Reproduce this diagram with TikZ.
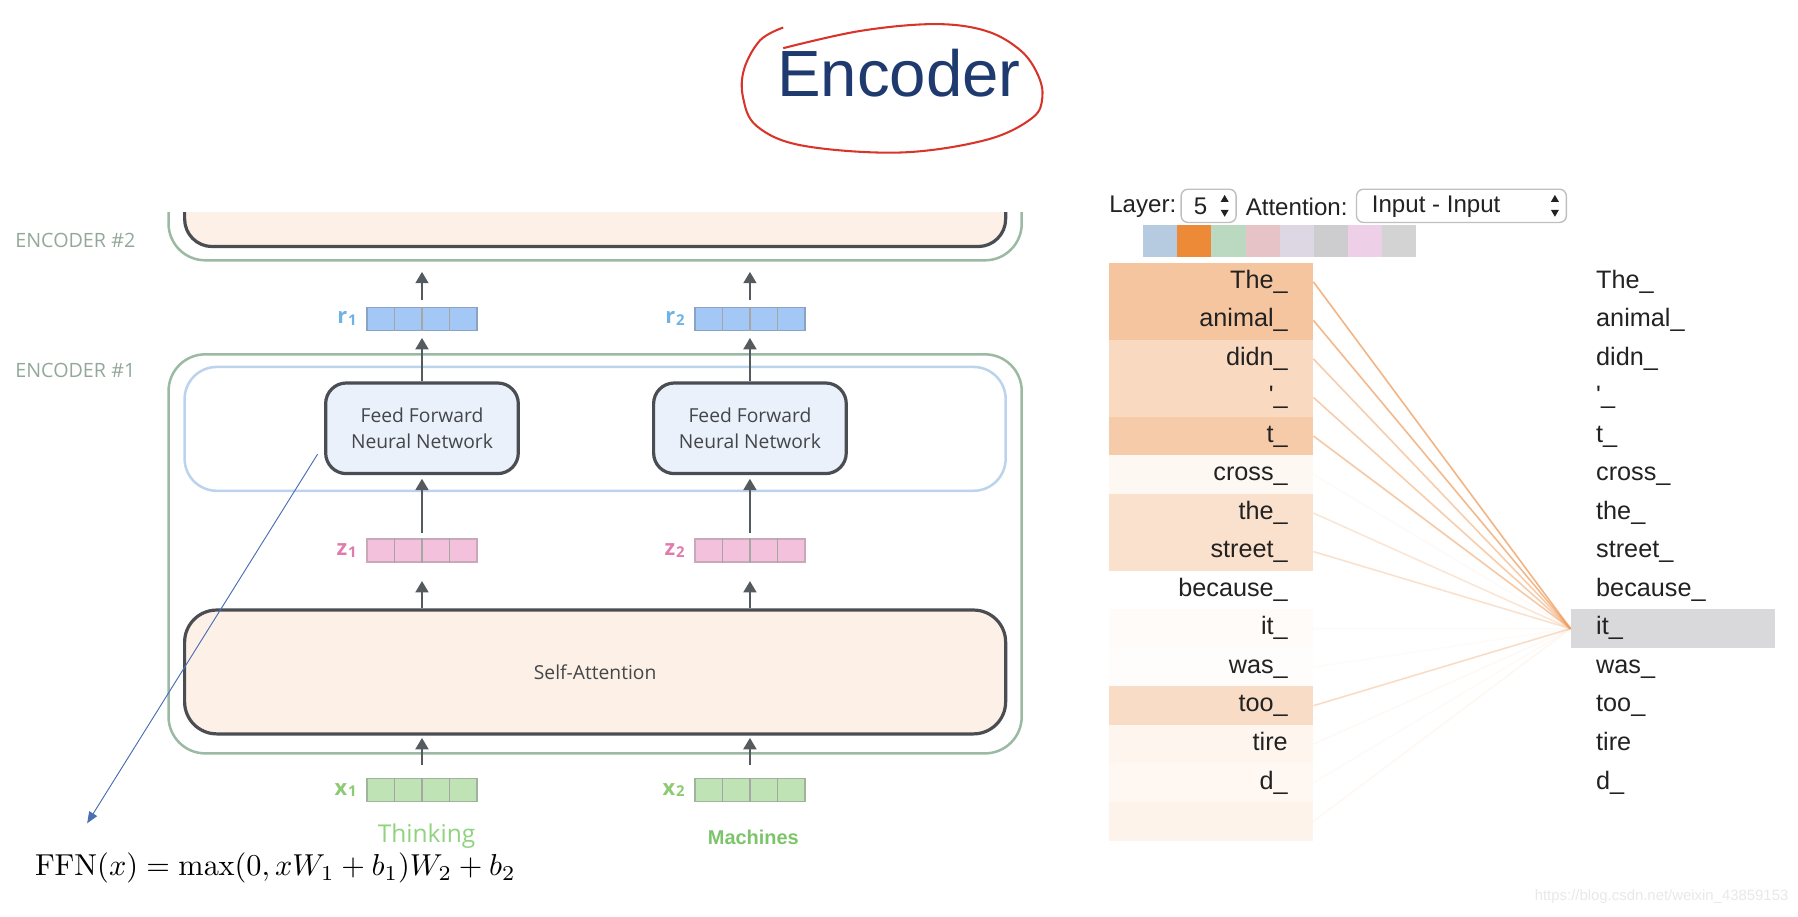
\documentclass[tikz,border=0pt]{standalone}
\usepackage[no-math]{fontspec}
\setmainfont{Liberation Sans}
\newfontfamily\opensans{Open Sans}
\usetikzlibrary{arrows.meta,positioning,calc}

\definecolor{titlenavy}{HTML}{1E3A6E}
\definecolor{redpen}{HTML}{D8352A}
\definecolor{encgreen}{HTML}{9CB9A3}
\definecolor{enclab}{HTML}{93A89A}
\definecolor{peach}{HTML}{FDF1E7}
\definecolor{boxdark}{HTML}{4A4D52}
\definecolor{boxtext}{HTML}{444649}
\definecolor{ffnfill}{HTML}{EAF1FB}
\definecolor{ffnlayer}{HTML}{BCD3EE}
\definecolor{arrgray}{HTML}{555A5F}
\definecolor{rfill}{HTML}{A3C8F5}
\definecolor{rdraw}{HTML}{8AA3C2}
\definecolor{rlab}{HTML}{6FB2E3}
\definecolor{zfill}{HTML}{F3C1DC}
\definecolor{zdraw}{HTML}{C9A9B9}
\definecolor{zlab}{HTML}{E07BAE}
\definecolor{xfill}{HTML}{C0E3B6}
\definecolor{xdraw}{HTML}{A0B49C}
\definecolor{xlab}{HTML}{8CCB72}
\definecolor{thinkgreen}{HTML}{8FD27F}
\definecolor{machgreen}{HTML}{7CC46A}
\definecolor{noteblue}{HTML}{4A6FB5}
\definecolor{uitext}{HTML}{222222}
\definecolor{attn}{HTML}{EE9B5A}
\definecolor{hlgray}{HTML}{D9D9DC}
\definecolor{swblue}{HTML}{B6CBDF}
\definecolor{sworange}{HTML}{EC8A38}
\definecolor{swgreen}{HTML}{BAD9C0}
\definecolor{swpink}{HTML}{E6C3C6}
\definecolor{swlav}{HTML}{DCD7E3}
\definecolor{swgray}{HTML}{CDCDD0}
\definecolor{swlilac}{HTML}{EDD0E8}
\definecolor{swgraylt}{HTML}{D3D3D3}

\newcommand{\vsub}[2]{#1\kern0.4pt\raisebox{-0.8pt}{\fontsize{6.5}{7}\selectfont #2}}

\begin{document}
\begin{tikzpicture}[x=0.5pt,y=-0.5pt,>={Triangle[length=5pt,width=5.5pt]},
  arr/.style={->,draw=arrgray,line width=1.25pt},
  encbox/.style={draw=encgreen,line width=1.1pt,rounded corners=16pt},
  enclabel/.style={anchor=west,inner sep=0pt,text=enclab,font=\opensans\fontsize{8.6}{10}\selectfont},
  ffnbox/.style={draw=boxdark,line width=1.4pt,fill=ffnfill,rounded corners=9pt,minimum width=84pt,minimum height=39.5pt,align=center,text=boxtext,font=\opensans\fontsize{8.4}{11}\selectfont},
  sabox/.style={draw=boxdark,line width=1.4pt,fill=peach,rounded corners=14pt,minimum width=358pt,minimum height=54pt,text=boxtext,font=\opensans\fontsize{8.4}{11}\selectfont},
  vec/.style={minimum width=48pt,minimum height=10pt,inner sep=0pt,line width=0.6pt},
  vlab/.style={inner sep=0pt,font=\opensans\bfseries\fontsize{9.5}{10}\selectfont},
  ui/.style={inner sep=0pt,text=uitext,font=\fontsize{10.5}{12}\selectfont},
  selbox/.style={draw=black!25,fill=white,rounded corners=3pt,minimum height=14.5pt,line width=0.6pt},
  tokl/.style={minimum width=89pt,minimum height=16.8pt,text width=67pt,align=right,inner xsep=0pt,inner ysep=0pt,text height=8pt,text depth=2.5pt,text=uitext,font=\fontsize{11}{13}\selectfont},
  tokr/.style={tokl,align=left},
  attnline/.style={draw=attn,line width=0.7pt}]

\useasboundingbox (0,0) rectangle (1568,799);

% title
\node[text=titlenavy,font=\fontsize{28.5}{30}\selectfont] (title) at (784,64) {Encoder};
\draw[redpen,line width=0.9pt] plot[smooth,tension=0.6] coordinates {(683,24) (663,35) (649,60) (648,85) (660,110) (700,127) (785,133) (860,122) (900,103) (909,85) (905,65) (890,44) (860,27) (815,21) (750,27) (683,42)};

% encoder #2, cut off at the top
\draw[encbox] (147,185) -- (147,227) -- (891,227) -- (891,185);
\filldraw[fill=peach,draw=boxdark,line width=1.4pt,rounded corners=12pt] (161,185) -- (161,215) -- (877,215) -- (877,185);
\coordinate (enc2in1) at (368,237);
\coordinate (enc2in2) at (654,237);

\node[enclabel] (enc2lab) at (13,210) {ENCODER \#2};
\node[enclabel] (enc1lab) at (13,323) {ENCODER \#1};

% encoder #1
\draw[encbox] (147,309) rectangle (891,657);
\draw[draw=ffnlayer,line width=1.1pt,rounded corners=14pt] (161,320) rectangle (877,428);

\node[ffnbox] (ffn1) at (368,373.5) {Feed Forward\\Neural Network};
\node[ffnbox] (ffn2) at (654,373.5) {Feed Forward\\Neural Network};
\node[sabox] (sa) at (519,586) {Self-Attention};

% vectors
\node[vec,fill=rfill,draw=rdraw] (rvec1) at (368,278) {};
\node[vec,fill=rfill,draw=rdraw] (rvec2) at (654,278) {};
\node[vec,fill=zfill,draw=zdraw] (zvec1) at (368,480) {};
\node[vec,fill=zfill,draw=zdraw] (zvec2) at (654,480) {};
\node[vec,fill=xfill,draw=xdraw] (xvec1) at (368,689) {};
\node[vec,fill=xfill,draw=xdraw] (xvec2) at (654,689) {};
\foreach \v in {rvec1,rvec2,zvec1,zvec2,xvec1,xvec2}
  \foreach \k in {1,2,3}
    \draw[black!35,line width=0.5pt] ($(\v.north west)!\k/4!(\v.north east)$) -- ($(\v.south west)!\k/4!(\v.south east)$);

\node[vlab,text=rlab,left=4pt of rvec1] (rlab1) {\vsub{r}{1}};
\node[vlab,text=rlab,left=4pt of rvec2] (rlab2) {\vsub{r}{2}};
\node[vlab,text=zlab,left=4pt of zvec1] (zlab1) {\vsub{z}{1}};
\node[vlab,text=zlab,left=4pt of zvec2] (zlab2) {\vsub{z}{2}};
\node[vlab,text=xlab,left=4pt of xvec1] (xlab1) {\vsub{x}{1}};
\node[vlab,text=xlab,left=4pt of xvec2] (xlab2) {\vsub{x}{2}};

% arrows
\draw[arr,shorten <=3pt] (rvec1) -- (enc2in1);
\draw[arr,shorten <=3pt] (rvec2) -- (enc2in2);
\draw[arr,shorten >=3pt] (ffn1) -- (rvec1);
\draw[arr,shorten >=3pt] (ffn2) -- (rvec2);
\draw[arr,shorten <=2.5pt,shorten >=1.5pt] (zvec1) -- (ffn1);
\draw[arr,shorten <=2.5pt,shorten >=1.5pt] (zvec2) -- (ffn2);
\draw[arr,shorten >=8pt] (sa.north -| zvec1) -- (zvec1);
\draw[arr,shorten >=8pt] (sa.north -| zvec2) -- (zvec2);
\draw[arr,shorten <=5.5pt,shorten >=1pt] (xvec1) -- (sa.south -| xvec1);
\draw[arr,shorten <=5.5pt,shorten >=1pt] (xvec2) -- (sa.south -| xvec2);

\node[text=thinkgreen,font=\opensans\fontsize{10.7}{12}\selectfont] (think) at (372,729) {Thinking};
\node[text=machgreen,font=\bfseries\fontsize{8.7}{10}\selectfont] (mach) at (657,730) {Machines};

% formula note
\node[anchor=west,inner sep=0pt,scale=1.32] (ffnformula) at (30,757) {$\mathrm{FFN}(x)=\max(0,xW_1+b_1)W_2+b_2$};
\coordinate (ffnnote) at (277,396);
\coordinate (ffntip) at (76,718);
\draw[-{Triangle[length=5pt,width=4pt]},draw=noteblue,fill=noteblue,line width=0.4pt] (ffnnote) -- (ffntip);

% attention view
\node[ui,anchor=west] (layerlab) at (967,180) {Layer:};
\node[selbox,minimum width=24pt] (layersel) at (1054,179.5) {};
\node[ui] (layerval) at (1047,180) {5};
\node[ui,anchor=west] (attnlab) at (1086,180) {Attention:};
\node[selbox,minimum width=91.5pt] (attnsel) at (1274.5,179.5) {};
\node[ui,anchor=west] (attnval) at (1196,180) {Input - Input};
\foreach \tx in {1068,1356} {
  \fill[uitext] (\tx-3.5,176) -- (\tx+3.5,176) -- (\tx,170) -- cycle;
  \fill[uitext] (\tx-3.5,183) -- (\tx+3.5,183) -- (\tx,189) -- cycle;
}
\foreach \c [count=\k from 0] in {swblue,sworange,swgreen,swpink,swlav,swgray,swlilac,swgraylt}
  \fill[\c] (997+29.75*\k,196) rectangle ++(29.75,28);

\foreach \i/\w in {1/The\_,2/animal\_,3/didn\_,4/\textquotesingle\_,5/t\_,6/cross\_,7/the\_,8/street\_,9/because\_,11/was\_,12/too\_,13/tire,14/d\_}
  \node[tokr] (rw\i) at (1459,212.2+33.6*\i) {\w};
\node[tokr,fill=hlgray] (rw10) at (1459,548.2) {it\_};

\foreach \w/\p/\o [count=\i] in {The\_/58/0.75,animal\_/58/0.7,didn\_/38/0.5,\textquotesingle\_/38/0.5,t\_/52/0.55,cross\_/7/0.05,the\_/30/0.25,street\_/30/0.3,because\_/0/0,it\_/4/0.05,was\_/2/0.04,too\_/35/0.35,tire/10/0.06,d\_/8/0.05,{}/12/0.08} {
  \node[tokl,fill=attn!\p] (lw\i) at (1056,212.2+33.6*\i) {\w};
  \draw[attnline,opacity=\o] (lw\i.east) -- (rw10.west);
}

\node[anchor=east,inner sep=0pt,text=black!9,font=\fontsize{6.5}{8}\selectfont] (wm) at (1560,782) {https://blog.csdn.net/weixin\_43859153};
\end{tikzpicture}
\end{document}
